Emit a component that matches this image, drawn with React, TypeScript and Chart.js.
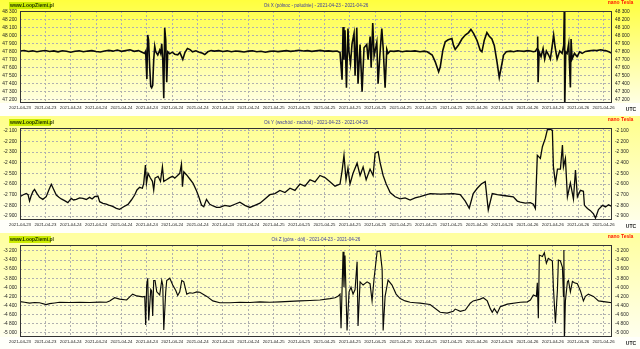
import React, { useEffect, useRef } from "react";
import { Chart, registerables } from "chart.js";

Chart.register(...registerables);

// ---------- DATA ----------
const timeTickHours = [0, 3, 6, 9, 12, 15, 18, 21, 24, 27, 30, 33, 36, 39, 42, 45, 48, 51, 54, 57, 60, 63, 66, 69];
const timeTickLabels = [
  "2021-04-23", "2021-04-23",
  "2021-04-24", "2021-04-24", "2021-04-24", "2021-04-24", "2021-04-24", "2021-04-24", "2021-04-24", "2021-04-24",
  "2021-04-25", "2021-04-25", "2021-04-25", "2021-04-25", "2021-04-25", "2021-04-25", "2021-04-25", "2021-04-25",
  "2021-04-26", "2021-04-26", "2021-04-26", "2021-04-26", "2021-04-26", "2021-04-26",
];

const xAxisTicks = [47200, 47300, 47400, 47500, 47600, 47700, 47800, 47900, 48000, 48100, 48200, 48300];
const yAxisTicks = [-2900, -2800, -2700, -2600, -2500, -2400, -2300, -2200, -2100];
const zAxisTicks = [-5000, -4800, -4600, -4400, -4200, -4000, -3800, -3600, -3400, -3200];

// [hours since start, nT]
const xComponent: [number, number][] = [
  [0, 47810], [0.5, 47816], [1, 47804], [1.5, 47812], [2, 47800], [2.5, 47809], [3, 47816], [3.5, 47803], [4, 47811], [4.5, 47799],
  [5, 47813], [5.5, 47806], [6, 47795], [6.5, 47807], [7, 47812], [7.5, 47800], [8, 47809], [8.5, 47814], [9, 47804], [9.5, 47798],
  [10, 47810], [10.5, 47818], [11, 47808], [11.5, 47822], [12, 47806], [12.5, 47815], [13, 47825], [13.5, 47806], [14, 47815], [14.5, 47792],
  [14.75, 47780], [14.86, 47805], [15.0, 47460], [15.1, 48010], [15.2, 47950], [15.34, 47600], [15.46, 47370], [15.57, 47350], [15.69, 47380],
  [15.81, 47700], [15.93, 47870], [16.05, 47800], [16.29, 47760], [16.52, 47820], [16.64, 47780], [16.76, 47900], [16.88, 47700], [17.0, 47220],
  [17.11, 48100], [17.23, 47950], [17.35, 47420], [17.47, 47800], [17.71, 47775],
  [18.0, 47795], [18.3, 47770], [18.65, 47762], [18.9, 47792], [19.25, 47705], [19.5, 47790], [19.8, 47842], [20.1, 47828], [20.4, 47800],
  [20.8, 47812], [21.2, 47795], [21.6, 47782], [21.85, 47765], [22.2, 47800], [22.6, 47815],
  [23, 47808], [23.5, 47815], [24, 47804], [24.5, 47812], [25, 47800], [25.5, 47810], [26, 47805], [26.5, 47798], [27, 47808], [27.5, 47812],
  [28, 47800], [28.5, 47806], [29, 47795], [29.5, 47805], [30, 47810], [30.5, 47802], [31, 47808], [31.5, 47815], [32, 47806], [32.5, 47812],
  [33, 47820], [33.5, 47810], [34, 47815], [34.5, 47805], [35, 47812], [35.5, 47818], [36, 47808], [36.5, 47812], [37, 47805], [37.5, 47810],
  [37.84, 47790], [38.08, 47450], [38.2, 48110], [38.3, 47700], [38.43, 48070], [38.6, 47350], [38.78, 48090], [38.9, 47800], [39.08, 47650],
  [39.26, 47900], [39.5, 48030], [39.62, 47500], [39.82, 48100], [39.97, 47400], [40.21, 47890], [40.45, 47300], [40.68, 47850], [41.0, 47890],
  [41.16, 47700], [41.4, 47990], [41.52, 47600], [41.71, 48160], [41.87, 47750], [42.19, 47920], [42.34, 47400], [42.58, 47800], [42.78, 48090],
  [42.94, 47850], [43.17, 47350], [43.37, 47830], [43.52, 47780], [43.76, 47810],
  [44.2, 47805], [44.7, 47812], [45.2, 47800], [45.7, 47810], [46.2, 47806], [46.7, 47812], [47.3, 47800], [47.8, 47808], [48.15, 47800],
  [48.74, 47760], [49.1, 47675], [49.5, 47550], [49.69, 47610], [50.0, 47820], [50.28, 47925], [50.63, 47950], [51.07, 47965], [51.26, 47880],
  [51.46, 47830], [51.85, 47885], [52.25, 47960], [52.65, 48010], [53.04, 48040], [53.32, 48080], [53.63, 48030], [54.03, 47945], [54.42, 47820],
  [54.62, 47800], [54.9, 47945], [55.21, 48040], [55.49, 47995], [55.8, 47960], [56.08, 47880], [56.4, 47675], [56.67, 47480], [56.91, 47610],
  [57.18, 47760], [57.5, 47800], [58.0, 47808], [58.37, 47800], [58.8, 47812], [59.16, 47810], [59.6, 47805], [60.0, 47815], [60.35, 47810],
  [60.7, 47800], [60.94, 47805], [61.14, 47840], [61.21, 47990], [61.26, 47420], [61.38, 47800], [61.61, 47740], [61.85, 47840], [62.04, 47710],
  [62.24, 47810], [62.51, 47760], [62.71, 47710], [62.91, 47860], [63.1, 48010], [63.27, 47860], [63.51, 47710], [63.82, 47810], [64.1, 47780],
  [64.29, 47880], [64.37, 48400], [64.41, 47100], [64.53, 47800], [64.69, 47780], [64.88, 47900], [65.08, 47355], [65.16, 47960], [65.28, 47710],
  [65.56, 47780], [65.87, 47740], [66.18, 47800], [66.47, 47780], [66.86, 47805], [67.3, 47812], [67.84, 47820], [68.2, 47815], [68.64, 47825],
  [69.0, 47818], [69.23, 47815], [69.62, 47800], [70.0, 47780],
];

const yComponent: [number, number][] = [
  [0, -2719], [0.33, -2703], [0.73, -2688], [0.95, -2700], [1.13, -2760], [1.3, -2715], [1.52, -2672], [1.72, -2650], [1.99, -2688],
  [2.31, -2725], [2.7, -2744], [3.1, -2719], [3.41, -2656], [3.7, -2603], [3.97, -2650], [4.29, -2703], [4.6, -2725], [4.88, -2740],
  [5.27, -2756], [5.66, -2775], [6.06, -2735], [6.34, -2750], [6.66, -2744], [7.05, -2730], [7.44, -2735], [7.84, -2745], [8.23, -2725],
  [8.53, -2740], [8.82, -2719], [9.21, -2713], [9.42, -2766], [9.81, -2781], [10.21, -2788], [10.48, -2798], [10.8, -2806], [11.07, -2815],
  [11.39, -2828], [11.78, -2838], [12.02, -2825], [12.26, -2813], [12.77, -2791], [13.17, -2750], [13.56, -2703], [13.83, -2656], [14.15, -2631],
  [14.47, -2640], [14.63, -2594], [14.83, -2422], [14.95, -2594], [15.14, -2500], [15.42, -2544], [15.66, -2575], [15.81, -2656], [15.97, -2544],
  [16.32, -2528], [16.61, -2575], [16.84, -2438], [17.0, -2575], [17.32, -2560], [17.71, -2540], [18.03, -2528], [18.3, -2545], [18.57, -2525],
  [18.89, -2500], [19.09, -2415], [19.21, -2625], [19.37, -2485], [19.68, -2513], [20.08, -2553], [20.47, -2594], [20.87, -2663], [21.14, -2719],
  [21.46, -2797], [21.73, -2813], [22.05, -2744], [22.44, -2790], [22.84, -2806], [23.24, -2819],
  [23.63, -2820], [24.22, -2800], [24.81, -2810], [25.41, -2790], [26.0, -2770], [26.59, -2800], [27.18, -2820], [27.77, -2800], [28.37, -2780],
  [28.96, -2740], [29.55, -2700], [30.14, -2690], [30.73, -2660], [31.33, -2680], [31.92, -2640], [32.51, -2660], [33.1, -2600], [33.69, -2620],
  [34.29, -2560], [34.88, -2580], [35.47, -2520], [36.06, -2540], [36.65, -2580], [37.25, -2620], [37.84, -2600], [38.08, -2480], [38.31, -2330],
  [38.55, -2560], [38.78, -2450], [39.02, -2600], [39.38, -2500], [39.86, -2405], [40.21, -2520], [40.57, -2440], [40.93, -2560], [41.39, -2460],
  [41.75, -2520], [41.99, -2310], [42.35, -2297], [42.58, -2400], [42.94, -2520], [43.3, -2600], [43.77, -2680], [44.36, -2720], [44.95, -2740],
  [45.54, -2730], [46.13, -2750], [46.72, -2730], [47.31, -2719],
  [48.49, -2690], [49.68, -2695], [51.23, -2690], [52.06, -2700], [52.65, -2760], [53.12, -2827], [53.59, -2690], [54.07, -2640], [54.54, -2600],
  [55.01, -2578], [55.37, -2843], [55.84, -2690], [56.43, -2700], [57.38, -2710], [58.33, -2720], [58.8, -2760], [59.16, -2770], [59.75, -2780],
  [60.35, -2775], [60.7, -2790], [60.94, -2830], [61.17, -2330], [61.53, -2360], [61.77, -2250], [62.12, -2170], [62.36, -2090], [62.71, -2085],
  [62.95, -2100], [63.07, -2437], [63.31, -2594], [63.55, -2460], [63.9, -2460], [64.14, -2234], [64.26, -2440], [64.49, -2360], [64.73, -2720],
  [65.08, -2590], [65.44, -2740], [65.68, -2470], [65.91, -2719], [66.27, -2660], [66.62, -2668], [66.74, -2800], [67.1, -2830], [67.45, -2850],
  [67.81, -2880], [68.05, -2920], [68.4, -2840], [68.88, -2800], [69.23, -2815], [69.59, -2795], [70.0, -2810],
];

const zComponent: [number, number][] = [
  [0, -4317], [0.53, -4330], [1.13, -4350], [1.72, -4335], [2.31, -4340], [3.1, -4380], [3.49, -4360], [4.09, -4345], [4.68, -4330],
  [5.86, -4335], [7.05, -4330], [8.23, -4335], [9.42, -4328], [10.24, -4330], [10.6, -4300], [11.19, -4230], [11.78, -4260], [12.61, -4280],
  [12.97, -4210], [13.32, -4150], [13.8, -4190], [14.15, -4200], [14.51, -4210], [14.75, -4200], [14.86, -4830], [14.98, -3950], [15.1, -3800],
  [15.22, -4730], [15.46, -4050], [15.57, -4080], [15.69, -4630], [15.81, -3850], [15.97, -3850], [16.17, -4100], [16.52, -4170], [16.76, -3850],
  [16.88, -3950], [17.0, -4940], [17.23, -4100], [17.35, -3850], [17.71, -3800], [18.06, -3950], [18.42, -4070], [18.65, -4180], [18.89, -4100],
  [19.13, -3850], [19.37, -3880], [19.72, -4150], [20.08, -4120], [20.43, -4130], [20.9, -4100], [21.26, -4110], [22.09, -4200], [22.8, -4300],
  [23.63, -4340], [24.81, -4340], [26.0, -4330], [27.18, -4335], [28.37, -4320], [29.55, -4330], [30.73, -4320], [31.92, -4310], [33.1, -4300],
  [34.29, -4290], [35.47, -4280], [36.65, -4250], [37.25, -4230], [37.6, -4200], [37.84, -4150], [37.96, -4900], [38.2, -3215], [38.31, -4000],
  [38.43, -3300], [38.67, -4950], [38.91, -4100], [39.14, -4000], [39.38, -4150], [39.62, -4050], [39.86, -3435], [39.97, -4850], [40.21, -3880],
  [40.57, -3950], [41.04, -3880], [41.39, -3920], [41.63, -4300], [41.87, -3800], [42.23, -3210], [42.58, -3200], [42.82, -3600], [42.94, -4950],
  [43.17, -4200], [43.52, -3840], [43.99, -3950], [44.47, -4150], [44.95, -4250], [45.54, -4300], [46.13, -4330], [46.72, -4340], [47.31, -4350],
  [48.49, -4380], [49.68, -4550], [50.51, -4570], [51.23, -4530], [51.46, -4480], [52.06, -4530], [52.65, -4500], [53.24, -4350], [53.59, -4300],
  [54.42, -4260], [54.78, -4230], [55.25, -4300], [55.61, -4470], [55.84, -4550], [56.08, -4470], [56.43, -4570], [56.79, -4430], [57.62, -4370],
  [59.16, -4330], [59.99, -4320], [60.35, -4280], [60.7, -4170], [61.06, -4200], [61.17, -3900], [61.29, -4680], [61.41, -3290], [61.77, -3320],
  [62.0, -3240], [62.24, -3470], [62.47, -3360], [62.95, -3420], [63.07, -4000], [63.31, -4790], [63.55, -4050], [63.66, -3400], [63.9, -3420],
  [64.14, -3560], [64.26, -4200], [64.31, -3180], [64.37, -5200], [64.49, -4300], [64.73, -3875], [64.85, -3850], [65.08, -4100], [65.32, -3870],
  [65.56, -3900], [65.91, -3920], [66.27, -4080], [66.62, -4300], [66.86, -4200], [67.21, -4150], [67.81, -4200], [68.4, -4300], [69.23, -4320],
  [70.0, -4340],
];

// ---------- PANELS ----------
type PanelCfg = {
  title: string;
  series: [number, number][];
  ticks: number[];
  yMin: number;
  yMax: number;
  top: number;
  height: number;
  topColor: string;
  bottomColor: string;
  lineWidth: number;
};

const panels: PanelCfg[] = [
  { title: "Oś X (północ - południe) - 2021-04-23 - 2021-04-26", series: xComponent, ticks: xAxisTicks, yMin: 47160, yMax: 48310, top: -1, height: 117, topColor: "#ffff3c", bottomColor: "#ffffe4", lineWidth: 1.6 },
  { title: "Oś Y (wschód - zachód) - 2021-04-23 - 2021-04-26", series: yComponent, ticks: yAxisTicks, yMin: -2937.5, yMax: -2075, top: 116, height: 117, topColor: "#ffff8a", bottomColor: "#ffffe8", lineWidth: 1.3 },
  { title: "Oś Z (góra - dół) - 2021-04-23 - 2021-04-26", series: zComponent, ticks: zAxisTicks, yMin: -5095, yMax: -3068, top: 233, height: 116, topColor: "#ffff9e", bottomColor: "#ffffee", lineWidth: 1.15 },
];

const PLOT_TOP = 12;
const PLOT_H = 92;
const FONT = "'Liberation Sans', Arial, sans-serif";

const fmtNum = (v: number) => {
  const s = Math.abs(Math.round(v)).toString();
  const t = s.length > 3 ? s.slice(0, -3) + " " + s.slice(-3) : s;
  return (v < 0 ? "-" : "") + t;
};

const decorPlugin = {
  id: "decor",
  beforeDraw(chart: any, _a: any, opts: any) {
    const { ctx, chartArea: a, width, height } = chart;
    ctx.save();
    const g = ctx.createLinearGradient(0, 0, 0, a.bottom);
    g.addColorStop(0, opts.topColor);
    g.addColorStop(1, opts.bottomColor);
    ctx.fillStyle = g;
    ctx.fillRect(0, 0, width, a.bottom);
    ctx.fillStyle = "#fffffa";
    ctx.fillRect(0, a.bottom, width, height - a.bottom);
    ctx.restore();
  },
  afterDatasetsDraw(chart: any) {
    const { ctx, chartArea: a } = chart;
    ctx.save();
    ctx.strokeStyle = "#333333";
    ctx.lineWidth = 1;
    const l = Math.round(a.left) + 0.5;
    const r = Math.round(a.right) - 0.5;
    const t = Math.round(a.top) + 0.5;
    const b = Math.round(a.bottom) - 0.5;
    ctx.strokeRect(l, t, r - l, b - t);
    ctx.restore();
  },
  afterDraw(chart: any, _a: any, opts: any) {
    const { ctx, chartArea: a } = chart;
    ctx.save();
    ctx.textBaseline = "middle";
    // site label
    ctx.fillStyle = "#ccec00";
    ctx.fillRect(9, a.top - 9, 42, 7);
    ctx.fillStyle = "#223300";
    ctx.font = `bold 5px ${FONT}`;
    ctx.textAlign = "left";
    ctx.fillText("www.LoopZiemi.pl", 10, a.top - 5.2);
    // title
    ctx.fillStyle = "#3a3aa0";
    ctx.font = `4.6px ${FONT}`;
    ctx.textAlign = "center";
    ctx.fillText(opts.title, (a.left + a.right) / 2, a.top - 5.2);
    // unit
    ctx.fillStyle = "#ff1a00";
    ctx.font = `bold 5px ${FONT}`;
    ctx.textAlign = "center";
    ctx.fillText("nano Tesla", 620.5, a.top - 8);
    // UTC
    ctx.fillStyle = "#222222";
    ctx.font = `bold 5px ${FONT}`;
    ctx.fillText("UTC", 631, a.bottom + 7);
    ctx.restore();
  },
};

function buildConfig(p: PanelCfg): any {
  const yFont = { family: FONT, size: 4.8 };
  const xFont = { family: FONT, size: 4.3 };
  const yCommon = {
    type: "linear",
    min: p.yMin,
    max: p.yMax,
    afterBuildTicks: (s: any) => {
      s.ticks = p.ticks.map((v) => ({ value: v }));
    },
    ticks: { autoSkip: false, padding: 3, font: yFont, color: "#222222", callback: (v: number) => fmtNum(v) },
  };
  return {
    type: "line",
    data: {
      datasets: [
        {
          data: p.series.map(([h, v]) => ({ x: h, y: v })),
          borderColor: "#0a0a0a",
          borderWidth: p.lineWidth,
          pointRadius: 0,
          tension: 0,
          fill: false,
          yAxisID: "y",
        },
      ],
    },
    options: {
      animation: false,
      responsive: false,
      maintainAspectRatio: false,
      events: [],
      layout: { padding: { top: PLOT_TOP, left: 0, right: 0, bottom: 0 } },
      plugins: {
        legend: { display: false },
        tooltip: { enabled: false },
        title: { display: false },
        decor: { title: p.title, topColor: p.topColor, bottomColor: p.bottomColor },
      },
      scales: {
        x: {
          type: "linear",
          min: 0,
          max: 70,
          afterBuildTicks: (s: any) => {
            s.ticks = timeTickHours.map((v) => ({ value: v }));
          },
          afterFit: (s: any) => {
            s.height = p.height - PLOT_TOP - PLOT_H;
          },
          grid: { color: "#b0b0b0", lineWidth: 1, drawTicks: false },
          border: { display: false, dash: [2, 2] },
          ticks: {
            autoSkip: false,
            maxRotation: 0,
            minRotation: 0,
            padding: 1.8,
            font: xFont,
            color: "#1a1a1a",
            callback: (_v: number, i: number) => timeTickLabels[i],
          },
        },
        y: {
          ...yCommon,
          position: "left",
          afterFit: (s: any) => {
            s.width = 20;
          },
          grid: { color: "#b0b0b0", lineWidth: 1, drawTicks: false },
          border: { display: false, dash: [2, 2] },
        },
        y2: {
          ...yCommon,
          position: "right",
          afterFit: (s: any) => {
            s.width = 28;
          },
          grid: { display: false, drawTicks: false },
          border: { display: false },
        },
      },
    },
    plugins: [decorPlugin],
  };
}

function Panel({ cfg }: { cfg: PanelCfg }) {
  const ref = useRef<HTMLCanvasElement>(null);
  useEffect(() => {
    const chart = new Chart(ref.current as HTMLCanvasElement, buildConfig(cfg));
    return () => chart.destroy();
  }, [cfg]);
  return (
    <canvas
      ref={ref}
      width={640}
      height={cfg.height}
      style={{ position: "absolute", left: 0, top: cfg.top, width: 640, height: cfg.height }}
    />
  );
}

export default function App() {
  return (
    <div style={{ position: "absolute", left: 0, top: 0, width: 640, height: 349, background: "#ffffff", overflow: "hidden" }}>
      {panels.map((p, i) => (
        <Panel key={i} cfg={p} />
      ))}
    </div>
  );
}
